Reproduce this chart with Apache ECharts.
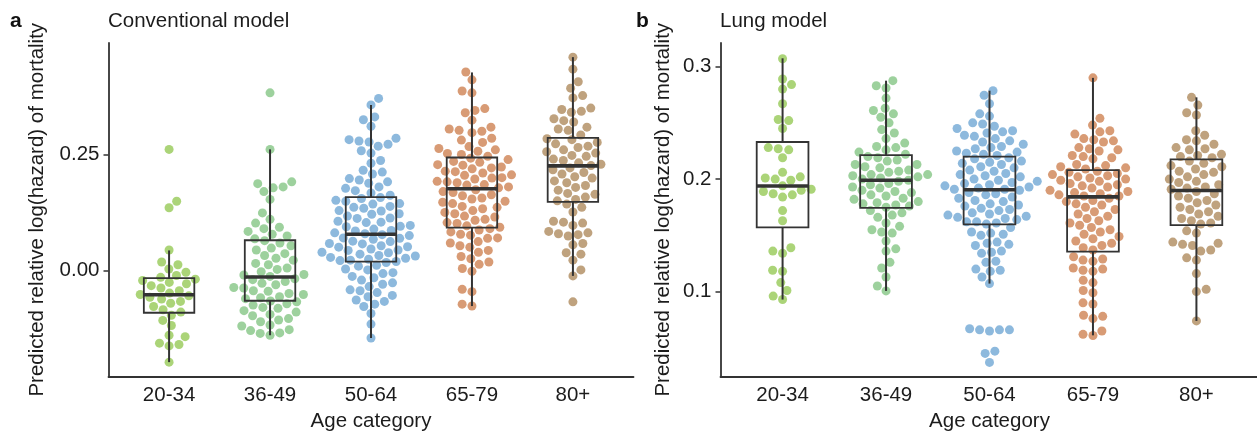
<!DOCTYPE html>
<html>
<head>
<meta charset="utf-8">
<script src="https://cdn.jsdelivr.net/npm/echarts@6/dist/echarts.min.js"></script>
<style>
  html, body { margin: 0; padding: 0; background: #fff; }
  #chart { width: 1257px; height: 431px; }
</style>
</head>
<body>
<div id="chart"></div>
<script>
// Age groups shared by both panels
const categories = ['20-34', '36-49', '50-64', '65-79', '80+'];

// Panel a: conventional model, predicted relative log(hazard) per person
const conv_20_34 = [0.261, 0.149, 0.135, 0.044, 0.018, 0.012, 0.003, -0.004, -0.011, -0.015, -0.019, -0.022, -0.026, -0.029, -0.033, -0.038, -0.044, -0.049, -0.052, -0.055, -0.058, -0.062, -0.067, -0.071, -0.078, -0.085, -0.090, -0.097, -0.108, -0.119, -0.140, -0.143, -0.157, -0.160, -0.163, -0.198];
const conv_36_49 = [0.383, 0.261, 0.191, 0.187, 0.180, 0.178, 0.170, 0.153, 0.124, 0.110, 0.102, 0.093, 0.090, 0.084, 0.078, 0.074, 0.068, 0.064, 0.059, 0.053, 0.048, 0.044, 0.036, 0.032, 0.026, 0.022, 0.015, 0.012, 0.005, 0.002, -0.003, -0.009, -0.010, -0.013, -0.018, -0.020, -0.024, -0.028, -0.031, -0.037, -0.038, -0.044, -0.045, -0.050, -0.052, -0.057, -0.059, -0.061, -0.066, -0.068, -0.072, -0.075, -0.080, -0.082, -0.087, -0.090, -0.095, -0.098, -0.104, -0.107, -0.111, -0.118, -0.120, -0.128, -0.130, -0.135, -0.136, -0.140];
const conv_50_64 = [0.371, 0.357, 0.331, 0.325, 0.311, 0.285, 0.282, 0.279, 0.277, 0.272, 0.268, 0.258, 0.253, 0.237, 0.231, 0.216, 0.212, 0.208, 0.198, 0.195, 0.191, 0.188, 0.180, 0.177, 0.172, 0.167, 0.162,
  0.157, 0.155, 0.151, 0.149, 0.144, 0.143, 0.138, 0.136, 0.134, 0.129, 0.128, 0.122, 0.121, 0.117, 0.113, 0.112, 0.106, 0.104, 0.103, 0.097, 0.095, 0.094, 0.089, 0.086, 0.085, 0.081, 0.079,
  0.077, 0.075, 0.070, 0.069, 0.067, 0.063, 0.062, 0.058, 0.057, 0.053, 0.051, 0.050, 0.046, 0.044, 0.043, 0.039, 0.038, 0.035, 0.032, 0.031, 0.028, 0.026, 0.024, 0.022, 0.021, 0.019,
  0.017, 0.011, 0.009, 0.003, 0.001, -0.005, -0.007, -0.013, -0.016, -0.021, -0.027, -0.030, -0.035, -0.042, -0.044, -0.048, -0.054, -0.057, -0.064, -0.067, -0.073, -0.078, -0.093, -0.116, -0.146];
const conv_65_79 = [0.428, 0.411, 0.387, 0.383, 0.349, 0.345, 0.340, 0.324, 0.309, 0.305, 0.302, 0.300, 0.297, 0.285, 0.281, 0.276, 0.267, 0.263, 0.260, 0.257, 0.252, 0.250, 0.246,
  0.242, 0.239, 0.235, 0.233, 0.228, 0.227, 0.223, 0.221, 0.219, 0.214, 0.213, 0.210, 0.206, 0.205, 0.200, 0.199, 0.197, 0.192, 0.191, 0.189, 0.185, 0.184, 0.180, 0.178,
  0.174, 0.170, 0.168, 0.163, 0.161, 0.156, 0.154, 0.149, 0.147, 0.144, 0.138, 0.136, 0.133, 0.129, 0.125, 0.122, 0.117, 0.115, 0.110, 0.108, 0.103, 0.101, 0.096, 0.093,
  0.090, 0.087, 0.083, 0.078, 0.076, 0.070, 0.069, 0.062, 0.059, 0.053, 0.050, 0.043, 0.039, 0.030, 0.025, 0.018, 0.013, 0.004, -0.002, -0.041, -0.046, -0.073, -0.077];
const conv_80plus = [0.460, 0.434, 0.407, 0.393, 0.377, 0.372, 0.350, 0.347, 0.343, 0.341, 0.327, 0.323, 0.320, 0.309, 0.305, 0.302, 0.292,
  0.284, 0.282, 0.276, 0.273, 0.268, 0.265, 0.260, 0.256, 0.253, 0.248, 0.246, 0.240, 0.237, 0.232, 0.229, 0.226,
  0.221, 0.217, 0.211, 0.208, 0.202, 0.199, 0.193, 0.189, 0.183, 0.179, 0.173, 0.166, 0.164, 0.158, 0.153, 0.150,
  0.143, 0.136, 0.126, 0.106, 0.104, 0.102, 0.097, 0.084, 0.081, 0.079, 0.077, 0.074, 0.058, 0.055, 0.038, 0.035, 0.022, 0.001, -0.012, -0.068];

// Panel a box summaries: whisker low, Q1, median, Q3, whisker high
const convLow = [-0.198, -0.140, -0.146, -0.077, -0.012];
const convQ1 = [-0.0915, -0.0656, 0.0188, 0.092, 0.1477];
const convMedian = [-0.0526, -0.0144, 0.0778, 0.176, 0.2254];
const convQ3 = [-0.0166, 0.065, 0.158, 0.2435, 0.286];
const convHigh = [0.043, 0.261, 0.357, 0.427, 0.460];

// Panel b: lung model
const lung_20_34 = [0.307, 0.289, 0.284, 0.280, 0.267, 0.253, 0.252, 0.245, 0.228, 0.227, 0.226, 0.219, 0.206, 0.202, 0.201, 0.200, 0.199, 0.194, 0.191, 0.190, 0.189, 0.187, 0.186, 0.184, 0.172, 0.163, 0.139, 0.136, 0.134, 0.119, 0.118, 0.108, 0.101, 0.096, 0.093];
const lung_36_49 = [0.2875, 0.283, 0.281, 0.272, 0.263, 0.261, 0.258, 0.255, 0.250, 0.244, 0.241, 0.236, 0.232, 0.229, 0.228, 0.226, 0.224, 0.222,
  0.220, 0.219, 0.217, 0.216, 0.213, 0.213, 0.211, 0.210, 0.208, 0.207, 0.206, 0.204, 0.204, 0.203, 0.202, 0.201, 0.200, 0.199,
  0.198, 0.196, 0.195, 0.193, 0.192, 0.190, 0.189, 0.188, 0.186, 0.185, 0.183, 0.182, 0.180, 0.179, 0.178, 0.177, 0.176, 0.175,
  0.172, 0.170, 0.168, 0.166, 0.161, 0.158, 0.155, 0.153, 0.152, 0.145, 0.138, 0.136, 0.126, 0.121, 0.113, 0.105, 0.1006];
const lung_50_64 = [0.2786, 0.2745, 0.267, 0.258, 0.256, 0.250, 0.249, 0.247, 0.245, 0.243, 0.242, 0.241, 0.239, 0.238, 0.236, 0.234, 0.233, 0.231, 0.229, 0.228, 0.227, 0.225, 0.224, 0.223, 0.222, 0.221,
  0.219, 0.218, 0.216, 0.215, 0.214, 0.213, 0.211, 0.210, 0.208, 0.207, 0.205, 0.204, 0.203, 0.202, 0.200, 0.199, 0.198, 0.197, 0.196, 0.195, 0.194, 0.193, 0.192, 0.191, 0.191,
  0.190, 0.188, 0.187, 0.186, 0.184, 0.183, 0.181, 0.180, 0.178, 0.177, 0.176, 0.174, 0.173, 0.172, 0.170, 0.169, 0.168, 0.167, 0.166, 0.165, 0.164, 0.162, 0.162, 0.161, 0.160,
  0.157, 0.153, 0.152, 0.151, 0.150, 0.144, 0.143, 0.142, 0.141, 0.136, 0.135, 0.134, 0.127, 0.126, 0.120, 0.119, 0.118, 0.113, 0.1071, 0.066, 0.066, 0.065, 0.066, 0.067, 0.047, 0.045, 0.037];
const lung_65_79 = [0.290, 0.254, 0.248, 0.243, 0.242, 0.240, 0.236, 0.235, 0.234, 0.233, 0.228, 0.227, 0.226, 0.225, 0.221, 0.220, 0.219, 0.218, 0.213, 0.212, 0.211, 0.210, 0.209,
  0.207, 0.206, 0.205, 0.204, 0.203, 0.202, 0.201, 0.200, 0.199, 0.198, 0.196, 0.195, 0.194, 0.193, 0.192, 0.190, 0.189, 0.188, 0.187, 0.186, 0.185, 0.185,
  0.183, 0.181, 0.180, 0.178, 0.177, 0.175, 0.173, 0.171, 0.169, 0.167, 0.165, 0.163, 0.161, 0.159, 0.157, 0.155, 0.153, 0.151, 0.149, 0.147, 0.145, 0.143, 0.141, 0.139, 0.137,
  0.131, 0.129, 0.128, 0.127, 0.121, 0.120, 0.119, 0.118, 0.110, 0.108, 0.101, 0.099, 0.090, 0.089, 0.079, 0.078, 0.076, 0.065, 0.062, 0.061];
const lung_80plus = [0.2727, 0.2658, 0.259, 0.257, 0.243, 0.239, 0.235, 0.234, 0.231, 0.228, 0.227, 0.226, 0.222, 0.221, 0.220, 0.219,
  0.216, 0.214, 0.212, 0.211, 0.209, 0.207, 0.206, 0.204, 0.202, 0.200, 0.198, 0.197, 0.195, 0.193, 0.192, 0.191,
  0.189, 0.187, 0.185, 0.183, 0.181, 0.179, 0.177, 0.175, 0.173, 0.171, 0.169, 0.167, 0.165, 0.163, 0.161, 0.160,
  0.154, 0.152, 0.144, 0.143, 0.142, 0.141, 0.137, 0.136, 0.130, 0.128, 0.116, 0.102, 0.100, 0.0739];

// Panel b box summaries
const lungLow = [0.0929, 0.1006, 0.1071, 0.0611, 0.0739];
const lungQ1 = [0.157, 0.1745, 0.1597, 0.1356, 0.159];
const lungMedian = [0.1938, 0.199, 0.1905, 0.1842, 0.1899];
const lungQ3 = [0.233, 0.2214, 0.2199, 0.208, 0.2175];
const lungHigh = [0.3074, 0.2875, 0.2786, 0.290, 0.2727];

// Tick positions
const convTicks = [0, 0.25];
const lungTicks = [0.1, 0.2, 0.3];

const groupColors = ['#88c23f', '#74bd74', '#5c9bcf', '#c7703a', '#a47a47'];
const FONT = "'Liberation Sans', Arial, Helvetica, sans-serif";
const TEXT = '#1c1c1c';
const AXIS = '#333333';

const convSets = [conv_20_34, conv_36_49, conv_50_64, conv_65_79, conv_80plus];
const lungSets = [lung_20_34, lung_36_49, lung_50_64, lung_65_79, lung_80plus];

const panels = [
  { grid: { left: 108.5, top: 43, width: 525, height: 333.5 }, yMin: -0.229, yMax: 0.4905,
    sets: convSets, low: convLow, q1: convQ1, med: convMedian, q3: convQ3, high: convHigh,
    ticks: convTicks, digits: 2, nameGap: 61 },
  { grid: { left: 720.5, top: 43, width: 538, height: 333.5 }, yMin: 0.0245, yMax: 0.321,
    sets: lungSets, low: lungLow, q1: lungQ1, med: lungMedian, q3: lungQ3, high: lungHigh,
    ticks: lungTicks, digits: 1, nameGap: 47 }
];

const X_MIN = -0.6, X_MAX = categories.length - 0.4;
const BOX_HALF = 0.25;
const POINT_SIZE = 9;
const SWARM_GAP = 10;

// Beeswarm layout: each point, taken in ascending order, goes to the free
// horizontal position nearest the group centre (pixel space).
function swarmOffsets(values, pxPerY, pxPerX, gap) {
  const order = values.map((v, i) => i).sort((a, b) => values[a] - values[b]);
  const placed = [];
  const out = new Array(values.length);
  let flip = false;
  for (const i of order) {
    const y = values[i] * pxPerY;
    const near = placed.filter(p => Math.abs(p.y - y) < gap);
    const cands = [0];
    near.forEach(p => {
      const dx = Math.sqrt(gap * gap - (p.y - y) * (p.y - y));
      cands.push(p.x + dx, p.x - dx);
    });
    cands.sort((a, b) => (Math.abs(a) - Math.abs(b)) || (flip ? a - b : b - a));
    let x = 0;
    for (const c of cands) {
      if (near.every(p => (c - p.x) * (c - p.x) + (y - p.y) * (y - p.y) >= gap * gap - 1e-6)) { x = c; break; }
    }
    flip = !flip;
    placed.push({ x, y });
    out[i] = x / pxPerX;
  }
  return out;
}

function renderBox(params, api) {
  const x = api.value(0);
  const lo = api.value(1), q1 = api.value(2), md = api.value(3), q3 = api.value(4), hi = api.value(5);
  const tl = api.coord([x - BOX_HALF, q3]);
  const br = api.coord([x + BOX_HALF, q1]);
  const pHi = api.coord([x, hi]), pQ3 = api.coord([x, q3]);
  const pQ1 = api.coord([x, q1]), pLo = api.coord([x, lo]);
  const m1 = api.coord([x - BOX_HALF, md]), m2 = api.coord([x + BOX_HALF, md]);
  return {
    type: 'group',
    children: [
      { type: 'line', shape: { x1: pHi[0], y1: pHi[1], x2: pQ3[0], y2: pQ3[1] }, style: { stroke: AXIS, lineWidth: 2 } },
      { type: 'line', shape: { x1: pQ1[0], y1: pQ1[1], x2: pLo[0], y2: pLo[1] }, style: { stroke: AXIS, lineWidth: 2 } },
      { type: 'rect', shape: { x: tl[0], y: tl[1], width: br[0] - tl[0], height: br[1] - tl[1] }, style: { stroke: AXIS, lineWidth: 1.8, fill: 'none' } },
      { type: 'line', shape: { x1: m1[0], y1: m1[1], x2: m2[0], y2: m2[1] }, style: { stroke: AXIS, lineWidth: 3.6 } }
    ]
  };
}

const grids = [], xAxes = [], yAxes = [], series = [];
panels.forEach((p, pi) => {
  grids.push(Object.assign({ outerBoundsMode: 'none', containLabel: false }, p.grid));
  xAxes.push({
    type: 'value', gridIndex: pi, min: X_MIN, max: X_MAX,
    name: 'Age category', nameLocation: 'middle', nameGap: 33,
    nameTextStyle: { fontFamily: FONT, fontSize: 20.5, color: TEXT },
    axisLine: { onZero: false, lineStyle: { color: AXIS, width: 1.8 } },
    axisTick: { show: false },
    splitLine: { show: false },
    axisLabel: {
      customValues: categories.map((c, i) => i),
      formatter: v => categories[Math.round(v)],
      fontFamily: FONT, fontSize: 20.5, color: TEXT, margin: 8
    }
  });
  yAxes.push({
    type: 'value', gridIndex: pi, min: p.yMin, max: p.yMax,
    name: 'Predicted relative log(hazard) of mortality', nameLocation: 'middle', nameGap: p.nameGap,
    nameTextStyle: { fontFamily: FONT, fontSize: 20.5, color: TEXT },
    axisLine: { show: true, onZero: false, lineStyle: { color: AXIS, width: 1.8 } },
    axisTick: { show: true, customValues: p.ticks, length: 5, lineStyle: { color: AXIS, width: 1.5 } },
    splitLine: { show: false },
    axisLabel: {
      customValues: p.ticks,
      formatter: v => Number(v).toFixed(p.digits),
      fontFamily: FONT, fontSize: 20.5, color: TEXT, margin: 9
    }
  });

  const pxPerY = p.grid.height / (p.yMax - p.yMin);
  const pxPerX = p.grid.width / (X_MAX - X_MIN);
  p.sets.forEach((vals, k) => {
    const offs = swarmOffsets(vals, pxPerY, pxPerX, SWARM_GAP);
    series.push({
      type: 'scatter', xAxisIndex: pi, yAxisIndex: pi, z: 2,
      symbolSize: POINT_SIZE,
      itemStyle: { color: groupColors[k], opacity: 0.7 },
      emphasis: { disabled: true },
      data: vals.map((v, i) => [k + offs[i], v])
    });
  });

  series.push({
    type: 'custom', xAxisIndex: pi, yAxisIndex: pi, z: 3,
    renderItem: renderBox,
    encode: { x: 0, y: [1, 2, 3, 4, 5] },
    data: categories.map((c, k) => [k, p.low[k], p.q1[k], p.med[k], p.q3[k], p.high[k]])
  });
});

const chart = echarts.init(document.getElementById('chart'), null, { renderer: 'canvas' });
chart.setOption({
  animation: false,
  backgroundColor: '#ffffff',
  title: [
    { text: 'a', left: 10, top: 11, padding: 0, textStyle: { fontFamily: FONT, fontSize: 21, fontWeight: 'bold', color: '#111' } },
    { text: 'Conventional model', left: 108, top: 11, padding: 0, textStyle: { fontFamily: FONT, fontSize: 20.5, fontWeight: 'normal', color: TEXT } },
    { text: 'b', left: 636, top: 11, padding: 0, textStyle: { fontFamily: FONT, fontSize: 21, fontWeight: 'bold', color: '#111' } },
    { text: 'Lung model', left: 720, top: 11, padding: 0, textStyle: { fontFamily: FONT, fontSize: 20.5, fontWeight: 'normal', color: TEXT } }
  ],
  grid: grids,
  xAxis: xAxes,
  yAxis: yAxes,
  series: series
});
</script>
</body>
</html>
